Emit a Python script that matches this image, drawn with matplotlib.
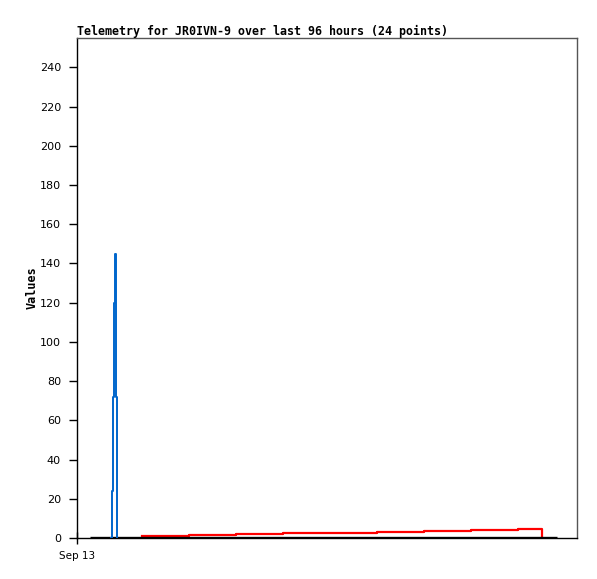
import matplotlib
matplotlib.use("Agg")
import matplotlib.pyplot as plt

# Data (x in hours since Sep 13 00:00)
black_x = [2.5, 92.2]
black_y = [0, 0]

blue_x = [6.55, 6.78, 6.97, 7.16, 7.35, 7.45, 7.62]
blue_y = [0, 24, 72, 120, 145, 72, 0]

red_x = [12.5, 21.5, 30.5, 39.55, 48.6, 57.6, 66.6, 75.65, 84.7, 89.3]
red_y = [0.87, 1.38, 1.85, 2.3, 2.7, 3.2, 3.68, 4.09, 4.75, 0]

yticks = list(range(0, 241, 20))
xtick_pos = [0]
xtick_labels = ["Sep 13"]
title = "Telemetry for JR0IVN-9 over last 96 hours (24 points)"

fig = plt.figure(figsize=(5.97, 5.79), dpi=100)
ax = fig.add_axes([77/597, 41/579, 500/597, 500/579])

ax.plot(red_x, red_y, drawstyle="steps-post", color="#ff0000", lw=1.6, zorder=3)
ax.plot(black_x, black_y, color="#000000", lw=2.4, zorder=4, solid_capstyle="butt")
ax.plot(blue_x, blue_y, drawstyle="steps-post", color="#0066cc", lw=1.4, zorder=5)

ax.set_xlim(0, 96)
ax.set_ylim(0, 255)
ax.set_yticks(yticks)
ax.set_xticks(xtick_pos)
ax.set_xticklabels(xtick_labels)

for s in ["top", "right"]:
    ax.spines[s].set_color("#555555")
for s in ["left", "bottom"]:
    ax.spines[s].set_color("#000000")
for s in ax.spines.values():
    s.set_linewidth(1.0)

ax.tick_params(axis="y", direction="out", length=5.5, width=1, colors="black",
               labelsize=8, pad=6)
ax.tick_params(axis="x", direction="inout", length=9, width=1, colors="black",
               labelsize=7.5, pad=5)
for lab in ax.get_yticklabels() + ax.get_xticklabels():
    lab.set_family("DejaVu Sans")

ax.set_ylabel("Values", family="DejaVu Sans Mono", fontweight="bold", fontsize=8.5, labelpad=1)
ax.set_title(title, family="DejaVu Sans Mono", fontweight="bold", fontsize=8.35,
             loc="left", pad=2)

fig.savefig("out.png", dpi=100)
